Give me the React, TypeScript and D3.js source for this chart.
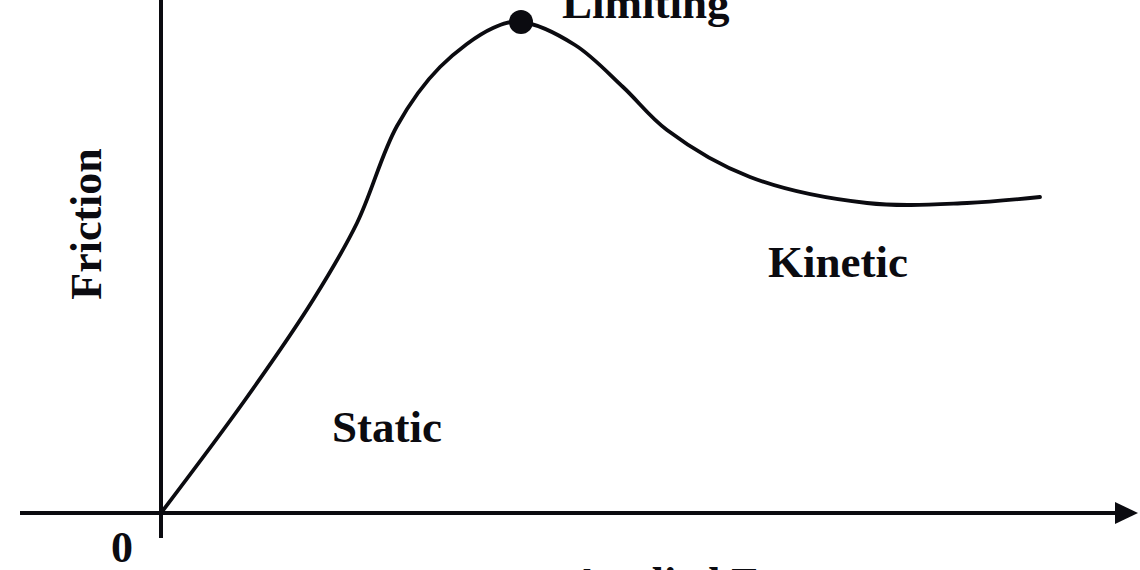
import React, { useEffect, useRef } from 'react';
import * as d3 from 'd3';

// Applied force (x) and friction (y), in arbitrary units
const appliedForce = [0, 8.4, 15.2, 19.6, 23.6, 27.9, 33.2, 36.0, 41.4, 46.2, 50.6, 58.9, 70.6, 80.6, 87.9];
const friction = [0, 11.3, 21.3, 29.0, 38.7, 44.6, 48.5, 49.1, 46.8, 42.6, 38.3, 33.6, 31.0, 31.0, 31.6];

const limitingPoint = { force: 36.0, friction: 49.1 };

const regionLabels = [
  { text: 'Limiting', force: 40.1, friction: 49.5 },
  { text: 'Kinetic', force: 60.7, friction: 23.6 },
  { text: 'Static', force: 17.1, friction: 7.1 },
];

const axisLabels = { x: 'Applied Force', y: 'Friction', origin: '0' };

export default function App() {
  const svgRef = useRef<SVGSVGElement>(null);

  useEffect(() => {
    if (!svgRef.current) return;
    const svg = d3.select(svgRef.current);
    svg.selectAll('*').remove();

    const width = 1140;
    const height = 570;
    const font = '"Liberation Serif", "Times New Roman", serif';
    const ink = '#0b0b10';

    const x = d3.scaleLinear().domain([0, 98]).range([161, 1141]);
    const y = d3.scaleLinear().domain([0, 50]).range([513, 13]);

    svg.attr('width', width).attr('height', height);

    // axes
    svg.append('line')
      .attr('x1', x(-14.1)).attr('y1', y(0))
      .attr('x2', x(95.6)).attr('y2', y(0))
      .attr('stroke', ink).attr('stroke-width', 4);

    svg.append('path')
      .attr('d', d3.line()([
        [x(95.4), y(1.1)],
        [x(97.7), y(0)],
        [x(95.4), y(-1.1)],
      ]) + 'Z')
      .attr('fill', ink);

    svg.append('line')
      .attr('x1', x(0)).attr('y1', y(-2.5))
      .attr('x2', x(0)).attr('y2', y(51.4))
      .attr('stroke', ink).attr('stroke-width', 4);

    // curve
    const pts: [number, number][] = appliedForce.map((f, i) => [x(f), y(friction[i])]);
    svg.append('path')
      .attr('d', d3.line().curve(d3.curveCatmullRom.alpha(0.5))(pts))
      .attr('fill', 'none')
      .attr('stroke', ink)
      .attr('stroke-width', 3.8)
      .attr('stroke-linecap', 'round');

    svg.append('circle')
      .attr('cx', x(limitingPoint.force))
      .attr('cy', y(limitingPoint.friction))
      .attr('r', 12)
      .attr('fill', ink);

    // labels
    svg.selectAll('.region')
      .data(regionLabels)
      .enter()
      .append('text')
      .attr('x', d => x(d.force))
      .attr('y', d => y(d.friction))
      .attr('font-family', font)
      .attr('font-weight', 'bold')
      .attr('font-size', 45)
      .attr('fill', ink)
      .text(d => d.text);

    svg.append('text')
      .attr('x', 122)
      .attr('y', 562)
      .attr('text-anchor', 'middle')
      .attr('font-family', font)
      .attr('font-weight', 'bold')
      .attr('font-size', 44)
      .attr('fill', ink)
      .text(axisLabels.origin);

    svg.append('text')
      .attr('transform', 'translate(101,224) rotate(-90)')
      .attr('text-anchor', 'middle')
      .attr('font-family', font)
      .attr('font-weight', 'bold')
      .attr('font-size', 44)
      .attr('fill', ink)
      .text(axisLabels.y);

    svg.append('text')
      .attr('x', 571)
      .attr('y', 598)
      .attr('font-family', font)
      .attr('font-weight', 'bold')
      .attr('font-size', 44)
      .attr('fill', ink)
      .text(axisLabels.x);
  }, []);

  return (
    <div style={{ position: 'absolute', left: 0, top: 0, background: 'white' }}>
      <svg ref={svgRef} width="1140" height="570" style={{ display: 'block' }} />
    </div>
  );
}
